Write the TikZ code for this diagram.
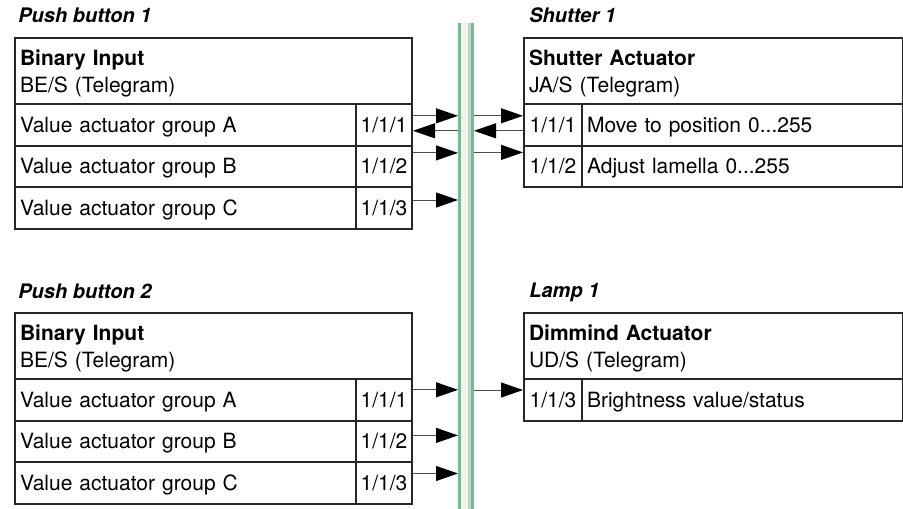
\documentclass[tikz,border=0pt]{standalone}
\usepackage{fontspec}
\setmainfont{TeX Gyre Heros}
\usepackage{tikz}
\usetikzlibrary{arrows.meta}
\usepackage{xcolor}
\definecolor{busg}{RGB}{110,189,148}
\definecolor{busl}{RGB}{243,243,239}
\definecolor{busd}{RGB}{205,208,203}
\tikzset{
  ttl/.style={anchor=base west,inner sep=0pt,font=\bfseries\itshape},
  hdr/.style={draw=black!85,line width=1pt,anchor=north west,align=left,inner xsep=2.5pt,minimum height=33pt,execute at begin node=\rule{0pt}{10.5pt}},
  lbl/.style={draw=black!85,line width=1pt,anchor=north west,align=left,inner xsep=2.5pt,minimum height=20.8pt,text height=7.5pt,text depth=0pt},
  adr/.style={draw=black!85,line width=1pt,anchor=north west,inner sep=0pt,minimum height=20.8pt,text height=7.5pt,text depth=0pt},
  sig/.style={-{Triangle[length=11pt,width=7.5pt,black]},line width=0.5pt,black!70},
  bus/.style={rectangle,fill=busg,anchor=north west,inner sep=0pt,outer sep=0pt,minimum width=8pt,minimum height=250pt,
    path picture={\fill[busd] ([xshift=1.5pt]path picture bounding box.north west) rectangle ([xshift=-1.5pt]path picture bounding box.south east);
      \fill[busl] ([xshift=1.5pt]path picture bounding box.north west) rectangle ([xshift=-3pt]path picture bounding box.south east);}},
}

\begin{document}
\begin{tikzpicture}[x=0.5pt,y=-0.5pt,font=\fontsize{10.5}{13.5}\selectfont]
  \useasboundingbox (0,0) rectangle (903,508);
  % push buttons (left)
  \foreach \n/\y in {1/0,2/275}{
    \node[ttl] (pb\n) at (18,23+\y) {Push button \n};
    \node[hdr,text width=193.5pt] (pb\n h) at (14,37+\y) {\textbf{Binary Input}\\BE/S (Telegram)};
    \foreach \i/\g in {1/A,2/B,3/C}{
      \node[lbl,text width=165.5pt] (pb\n l\i) at (14,{103+\y+41.6*(\i-1)}) {Value actuator group \g};
      \node[adr,minimum width=28pt] (pb\n a\i) at (355,{103+\y+41.6*(\i-1)}) {1/1/\i};
    }
  }
  % shutter
  \node[ttl] (sh1) at (529,23) {Shutter 1};
  \node[hdr,text width=184.5pt] (sh1h) at (523,37) {\textbf{Shutter Actuator}\\JA/S (Telegram)};
  \node[adr,minimum width=29pt] (sh1a1) at (523,103) {1/1/1};
  \node[lbl,text width=155.5pt] (sh1l1) at (581,103) {Move to position 0...255};
  \node[adr,minimum width=29pt] (sh1a2) at (523,144.6) {1/1/2};
  \node[lbl,text width=155.5pt] (sh1l2) at (581,144.6) {Adjust lamella 0...255};
  % lamp
  \node[ttl] (lp1) at (529,297) {Lamp 1};
  \node[hdr,text width=184.5pt] (lp1h) at (523,312) {\textbf{Dimmind Actuator}\\UD/S (Telegram)};
  \node[adr,minimum width=29pt] (lp1a1) at (523,378) {1/1/3};
  \node[lbl,text width=155.5pt] (lp1l1) at (581,378) {Brightness value/status};
  % bus line
  \node[bus] (bus) at (458,23) {};
  % telegrams
  \foreach \s/\d in {pb1a1/4.5,pb1a2/6.75,pb1a3/4,pb2a1/5,pb2a2/3,pb2a3/4.75}
    {\draw[sig] ([yshift=\d pt]\s.east) -- ([yshift=\d pt]\s.east -| bus.west);}
  \draw[sig] ([yshift=-3pt]pb1a1.east -| bus.west) -- ([yshift=-3pt]pb1a1.east);
  \draw[sig] ([yshift=4.5pt]sh1a1.west -| bus.east) -- ([yshift=4.5pt]sh1a1.west);
  \draw[sig] ([yshift=-3pt]sh1a1.west) -- ([yshift=-3pt]sh1a1.west -| bus.east);
  \draw[sig] ([yshift=7pt]sh1a2.west -| bus.east) -- ([yshift=7pt]sh1a2.west);
  \draw[sig] ([yshift=4.9pt]lp1a1.west -| bus.east) -- ([yshift=4.9pt]lp1a1.west);
\end{tikzpicture}
\end{document}
